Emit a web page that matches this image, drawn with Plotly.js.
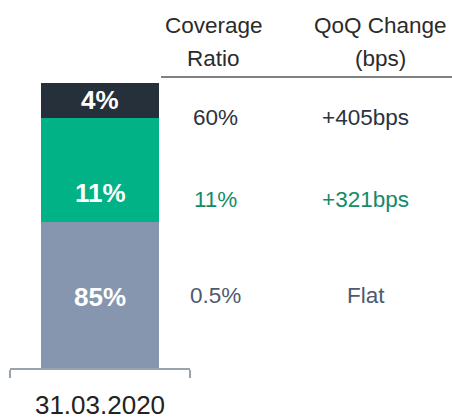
<!DOCTYPE html>
<html>
<head>
<meta charset="utf-8">
<script src="https://cdn.plot.ly/plotly-3.0.1.min.js"></script>
<style>html,body{margin:0;padding:0;background:#fff;}#chart{width:452px;height:420px;}</style>
</head>
<body>
<div id="chart"></div>
<script>
// ---- data (bottom segment first) ----
var categories = ['31.03.2020'];
var segmentNames = ['Stage 1', 'Stage 2', 'Stage 3'];
var shareLabels = ['85%', '11%', '4%'];
// drawn segment heights (share of bar height)
var drawnHeights = [51.4, 36.2, 12.4];
var coverageRatio = ['0.5%', '11%', '60%'];
var qoqChange = ['Flat', '+321bps', '+405bps'];
var headers = ['Coverage<br>Ratio', 'QoQ Change<br>(bps)'];

// ---- styles ----
var FONT = '"Liberation Sans Narrow", "Arial Narrow", "Liberation Sans", Arial, sans-serif';
var barColors = ['#8596ae', '#00b286', '#26303b'];
var valueColors = ['#4d5a70', '#148a67', '#2c333c'];
var labelY = [0.25, 0.614, 0.94];      // paper y of bar labels
var rowY = [0.255, 0.59, 0.88];        // paper y of table rows
var headerX = [1.133, 2.061];
var headerLineY = [1.2035, 1.0877];

var traces = segmentNames.map(function (n, i) {
  return {
    type: 'bar', name: n, x: categories, y: [drawnHeights[i]],
    marker: {color: barColors[i], line: {width: 0}},
    width: 0.656, hoverinfo: 'none'
  };
});

var annotations = [];
shareLabels.forEach(function (t, i) {
  annotations.push({xref: 'x', yref: 'paper', x: categories[0], y: labelY[i], text: '<b>' + t + '</b>',
    showarrow: false, xanchor: 'center', yanchor: 'middle',
    font: {family: FONT, size: 26, color: '#ffffff'}});
  annotations.push({xref: 'paper', yref: 'paper', x: 1.14, y: rowY[i], text: coverageRatio[i],
    showarrow: false, xanchor: 'center', yanchor: 'middle',
    font: {family: FONT, size: 22.5, color: valueColors[i]}});
  annotations.push({xref: 'paper', yref: 'paper', x: 1.975, y: rowY[i], text: qoqChange[i],
    showarrow: false, xanchor: 'center', yanchor: 'middle',
    font: {family: FONT, size: 22.5, color: valueColors[i]}});
});
headers.forEach(function (h, i) {
  h.split('<br>').forEach(function (line, j) {
    annotations.push({xref: 'paper', yref: 'paper', x: headerX[i], y: headerLineY[j], text: line,
      showarrow: false, xanchor: 'center', yanchor: 'middle',
      font: {family: FONT, size: 22.5, color: '#2b2b2b'}});
  });
});

var layout = {
  width: 452, height: 420,
  margin: {l: 10, r: 262, t: 83, b: 52, pad: 0},
  barmode: 'stack', bargap: 0,
  showlegend: false,
  paper_bgcolor: '#ffffff', plot_bgcolor: '#ffffff',
  xaxis: {
    type: 'category', range: [-0.5, 0.5], fixedrange: true,
    showline: true, linecolor: '#9aa2aa', linewidth: 2,
    ticks: 'outside', tickson: 'boundaries', ticklen: 8, tickwidth: 2, tickcolor: '#9aa2aa',
    showgrid: false, zeroline: false,
    tickfont: {family: FONT, size: 26, color: '#222222'},
    ticklabelstandoff: 13
  },
  yaxis: {range: [0, 100], visible: false, showgrid: false, zeroline: false, fixedrange: true},
  shapes: [{type: 'line', xref: 'paper', yref: 'paper', x0: 0.839, x1: 2.46, y0: 1.021, y1: 1.021,
    line: {color: '#808080', width: 2}}],
  annotations: annotations
};

Plotly.newPlot('chart', traces, layout, {staticPlot: true, displayModeBar: false});
</script>
</body>
</html>
